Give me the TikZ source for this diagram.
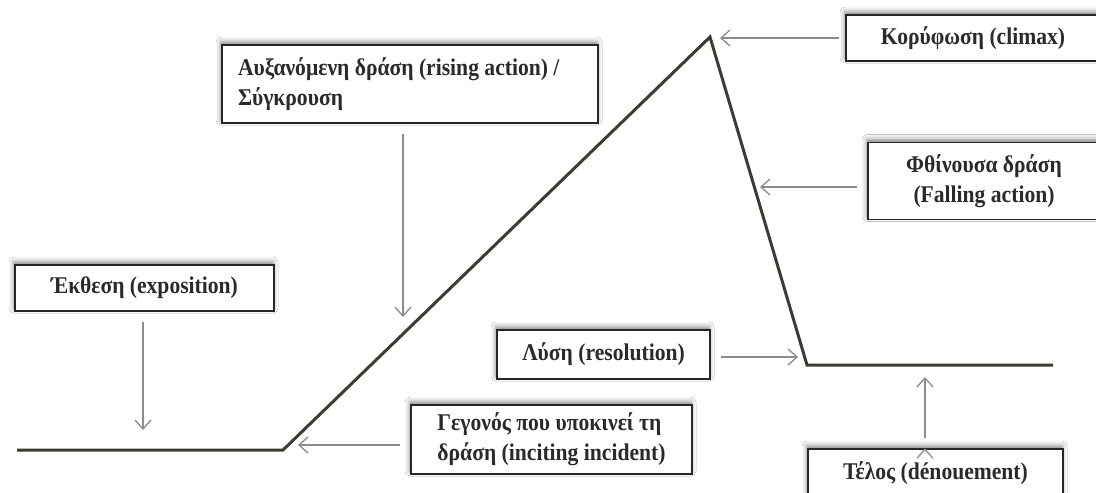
\documentclass[tikz,border=0pt]{standalone}
\usepackage{fontspec}
\setmainfont{Liberation Serif}
\newfontfamily\stagefont[FakeStretch=0.9]{Liberation Serif}
\usetikzlibrary{arrows.meta,shadows.blur}
\definecolor{plotgray}{HTML}{3C3C33}
\definecolor{arrgray}{HTML}{8C8C8C}
\definecolor{textgray}{HTML}{2A2A2A}

\begin{document}
\begin{tikzpicture}[x=1pt, y=-1pt,
  stage/.style={draw=black!85, line width=1.4pt, fill=white, text=textgray,
    font=\stagefont\fontsize{24}{30}\selectfont\bfseries, align=left, inner sep=0pt,
    blur shadow={shadow xshift=-1pt, shadow yshift=3pt, shadow blur radius=5pt, shadow opacity=50}},
  plot line/.style={draw=plotgray, line width=3pt, line join=miter},
  arr/.style={draw=arrgray, line width=1.3pt, -{Straight Barb[length=9pt,width=16pt]}, shorten <=10pt}]
\useasboundingbox (0,0) rectangle (1096,493);
\fill[white] (0,0) rectangle (1096,493);
\clip (0,0) rectangle (1096,493);

% plot
\coordinate (s)    at (17,450);
\coordinate (inc)  at (283,450);
\coordinate (top)  at (710,37);
\coordinate (res)  at (807,365);
\coordinate (e)    at (1053,365);
\draw[plot line] (s) -- (inc) -- (top) -- (res) -- (e);

% arrow tips
\coordinate (expotip) at (143,430);
\coordinate (risetip) at (403,317);
\coordinate (inctip)  at (298,445);
\coordinate (toptip)  at (720,38);
\coordinate (falltip) at (760,187);
\coordinate (restip)  at (798,357);
\coordinate (endtip)  at (925,377);

% boxes
\node[stage, minimum width=254, minimum height=46] (climax) at (973,38) {Κορύφωση (climax)};
\node[stage, minimum width=232, minimum height=77, align=center] (falling) at (984,181) {Φθίνουσα δράση\\(Falling action)};
\node[stage, minimum width=376, minimum height=78, text width=344pt, align=flush left] (rising) at (410,84) {Αυξανόμενη δράση (rising action) /\\Σύγκρουση};
\node[stage, minimum width=259, minimum height=46] (expo) at (144.5,288) {Έκθεση (exposition)};
\node[stage, minimum width=213, minimum height=49] (resol) at (603.5,354.5) {Λύση (resolution)};
\node[stage, minimum width=281, minimum height=69] (incite) at (551.5,439.5) {Γεγονός που υποκινεί τη\\δράση (inciting incident)};
\node[stage, minimum width=255, minimum height=48] (telos) at (935.5,473) {Τέλος (dénouement)};

\path[arr]
(expo.south -| expotip)    edge (expotip)
(rising.south -| risetip)  edge (risetip)
(incite.west |- inctip)    edge (inctip)
(climax.west |- toptip)    edge[shorten <=6pt] (toptip)
(falling.west |- falltip)  edge (falltip)
(resol.east |- restip)     edge (restip)
(telos.north -| endtip)    edge (endtip)
;
\end{tikzpicture}
\end{document}
